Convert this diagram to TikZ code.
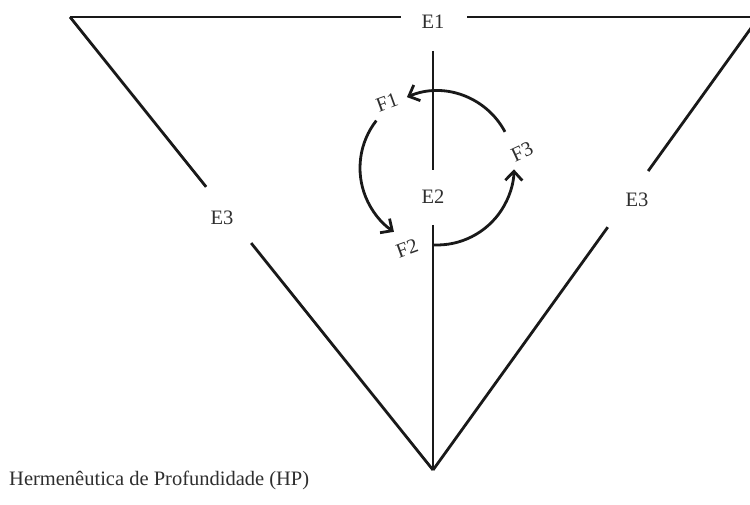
\documentclass[tikz,border=0pt]{standalone}
\usepackage{fontspec}
\setmainfont{Liberation Serif}
\usetikzlibrary{arrows.meta,calc}
\begin{document}
\begin{tikzpicture}[x=1pt,y=1pt,
  ln/.style={line width=2.8pt,color=black!90},
  cyc/.style={line width=2.8pt,color=black!90,-{Straight Barb[length=9pt,width=17pt]}},
  lbl/.style={inner sep=0pt,font=\fontsize{20.5}{24}\selectfont,text=black!82}]
\useasboundingbox (0,0) rectangle (750,504);
\clip (0,0) rectangle (750,504);
% corners
\coordinate (A) at (70,487);
\coordinate (B) at (759,487);
\coordinate (V) at (433,34);
\coordinate (C) at (437,336);
% labels
\node[lbl] (E1) at (433,482) {E1};
\node[lbl] (E2) at (433,307) {E2};
\node[lbl] (E3l) at (222,286) {E3};
\node[lbl] (E3r) at (637,304) {E3};
\node[lbl,rotate=20] (F1) at (387,402) {F1};
\node[lbl,rotate=20] (F2) at (407,256) {F2};
\node[lbl,rotate=25] (F3) at (522,352) {F3};
\node[lbl,anchor=base west] (cap) at (9,19) {Hermenêutica de Profundidade (HP)};
% top edge
\coordinate (T1) at (401,487);
\coordinate (T2) at (467,487);
\draw[ln] (A) -- (T1);
\draw[ln] (T2) -- (B);
% left edge
\draw[ln] (A) -- ($(A)!0.375!(V)$);
\draw[ln] ($(A)!0.499!(V)$) -- (V);
% right edge
\draw[ln] (B) -- ($(B)!0.34!(V)$);
\draw[ln] ($(B)!0.464!(V)$) -- (V);
% vertical
\coordinate (U1) at (433,453);
\coordinate (U2) at (433,334);
\coordinate (L1) at (433,279);
\draw[ln] (U1) -- (U2);
\draw[ln] (L1) -- (V);
% cycle arcs
\draw[cyc] ($(C)+(28:77)$) arc[start angle=28,end angle=113,radius=77];
\draw[cyc] ($(C)+(142:77)$) arc[start angle=142,end angle=236,radius=77];
\draw[cyc] ($(C)+(267:77)$) arc[start angle=267,end angle=359,radius=77];
\end{tikzpicture}
\end{document}
